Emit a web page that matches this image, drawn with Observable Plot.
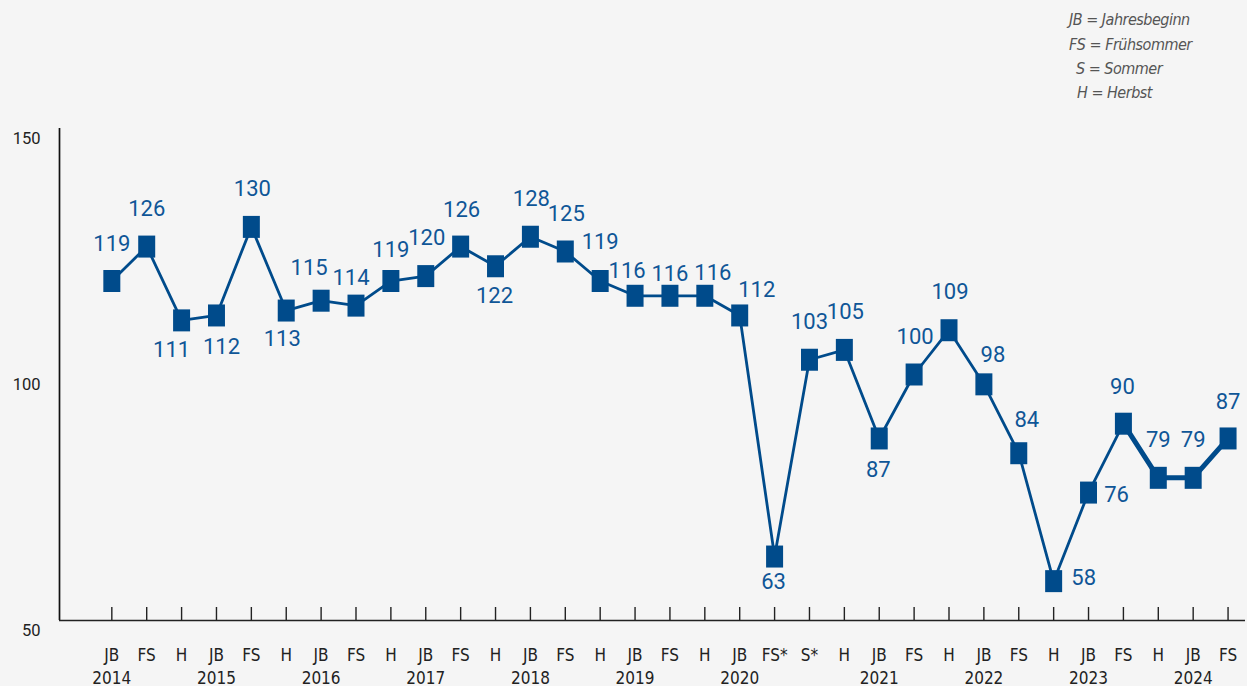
<!DOCTYPE html>
<html>
<head>
<meta charset="utf-8">
<script src="https://cdn.jsdelivr.net/npm/d3@7"></script>
<script src="https://cdn.jsdelivr.net/npm/@observablehq/plot@0.6"></script>
<style>
  html, body { margin: 0; padding: 0; background: #f5f5f5; }
  #legend { position: relative; width: 1247px; height: 110px; font-family: "Liberation Sans Narrow", "DejaVu Sans Condensed", "Open Sans", sans-serif; font-style: italic; font-size: 16px; letter-spacing: -0.5px; color: #555; }
  #legend div { position: absolute; line-height: 24px; white-space: nowrap; }
  #chart svg { display: block; background: #f5f5f5; }
</style>
</head>
<body>
<div id="legend"></div>
<div id="chart"></div>
<script>
// ---- data ----
const periods = ["JB","FS","H","JB","FS","H","JB","FS","H","JB","FS","H","JB","FS","H","JB","FS","H","JB","FS*","S*","H","JB","FS","H","JB","FS","H","JB","FS","H","JB","FS"];
const periodYears = [2014,2014,2014,2015,2015,2015,2016,2016,2016,2017,2017,2017,2018,2018,2018,2019,2019,2019,2020,2020,2020,2020,2021,2021,2021,2022,2022,2022,2023,2023,2023,2024,2024];
const values = [119,126,111,112,130,113,115,114,119,120,126,122,128,125,119,116,116,116,112,63,103,105,87,100,109,98,84,58,76,90,79,79,87];
const yTicks = [50,100,150];
const legendLines = ["JB = Jahresbeginn","FS = Frühsommer","S = Sommer","H = Herbst"];

// ---- layout (label offsets in px, relative to each marker) ----
const labelDx = [0,0,-10,5,1,-4,-12,-5,0,1,1,-1,1,1,0,-8,0,8,17,-1,0,1,-1,1,1,9,8,30,28,-1,0,0,0];
const labelDy = [-37,-38,30,31,-38,28,-33,-28,-31,-38,-37,30,-38,-38,-39,-25,-22,-23,-26,25,-38,-38,31,-38,-38,-29,-33,-3,2,-37,-38,-38,-37];
const legendLeft = [1069,1069,1076,1077];
const legendTop = [8,33,57,81];

// legend
const leg = document.getElementById("legend");
legendLines.forEach((t, i) => {
  const d = document.createElement("div");
  d.textContent = t;
  d.style.left = legendLeft[i] + "px";
  d.style.top = legendTop[i] + "px";
  leg.appendChild(d);
});

const data = values.map((v, i) => ({i, v, period: periods[i], year: periodYears[i]}));
const yearData = data.filter((d, k) => k === 0 || periodYears[k] !== periodYears[k - 1]);

const blue = "#004b8b";
const labelBlue = "#0f5697";
const rectSymbol = { draw(ctx) { ctx.rect(-8.5, -11, 17, 22); } };

const labelMarks = data.map((d, k) => Plot.text([d], {
  x: "i", y: "v", text: d => String(d.v),
  dx: labelDx[k], dy: labelDy[k],
  fill: labelBlue, fontSize: 22, fontFamily: "Roboto, sans-serif",
  textAnchor: "middle", lineAnchor: "middle"
}));

const chart = Plot.plot({
  width: 1247,
  height: 576,
  marginTop: 18,
  marginBottom: 66,
  marginLeft: 59,
  marginRight: 2,
  style: { background: "#f5f5f5", overflow: "visible" },
  x: { type: "linear", domain: [-1.5, 32.5], axis: null },
  y: { domain: [50, 150], axis: null },
  marks: [
    Plot.text(yTicks, { y: d => d, text: d => String(d), frameAnchor: "left", dx: -19, dy: 10,
      textAnchor: "end", lineAnchor: "middle", fontSize: 16.5, fontFamily: "Roboto, sans-serif", fill: "#222" }),
    Plot.ruleX([-1.5], { stroke: "#111", strokeWidth: 1.7 }),
    Plot.ruleY([50], { stroke: "#222", strokeWidth: 1.7 }),
    Plot.tickX(data, { x: "i", stroke: "#222", strokeWidth: 1.4, insetTop: 479 }),
    Plot.text(data, { x: "i", text: "period", frameAnchor: "bottom", dy: 35, lineAnchor: "middle",
      fontSize: 17, fontFamily: "'Liberation Sans Narrow', 'DejaVu Sans Condensed', sans-serif", fill: "#222" }),
    Plot.text(yearData, { x: "i", text: d => String(d.year), frameAnchor: "bottom", dy: 58, lineAnchor: "middle",
      fontSize: 17, fontFamily: "'Liberation Sans Narrow', 'DejaVu Sans Condensed', sans-serif", fill: "#222" }),
    Plot.line(data.filter(d => d.i <= 29), { x: "i", y: "v", stroke: blue, strokeWidth: 2.8 }),
    Plot.line(data.filter(d => d.i >= 29), { x: "i", y: "v", stroke: blue, strokeWidth: 5, strokeLinejoin: "miter" }),
    Plot.dot(data, { x: "i", y: "v", symbol: rectSymbol, fill: blue, stroke: "none" }),
    ...labelMarks
  ]
});
document.getElementById("chart").appendChild(chart);
</script>
</body>
</html>
